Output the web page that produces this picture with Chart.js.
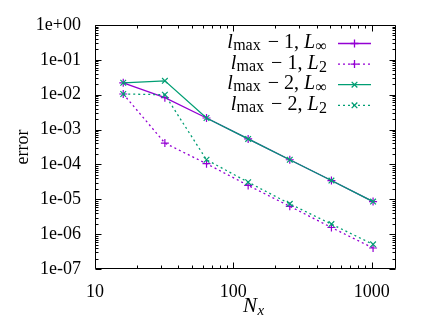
<!DOCTYPE html>
<html><head><meta charset="utf-8">
<script src="https://cdn.jsdelivr.net/npm/chart.js@4/dist/chart.umd.min.js"></script>
<style>html,body{margin:0;padding:0;background:#fff}#wrap{width:435px;height:327px}</style>
</head><body><div id="wrap"><canvas id="c" width="435" height="327"></canvas></div>
<script>
// ---- data ----
const nx = [16, 32, 64, 128, 256, 512, 1024];
const lm1Linf = [2.2e-2, 8.2e-3, 2.15e-3, 5.4e-4, 1.36e-4, 3.45e-5, 8.6e-6];
const lm1L2   = [1.05e-2, 4.1e-4, 1.05e-4, 2.5e-5, 6.3e-6, 1.55e-6, 4.0e-7];
const lm2Linf = [2.2e-2, 2.5e-2, 2.15e-3, 5.4e-4, 1.36e-4, 3.45e-5, 8.6e-6];
const lm2L2   = [1.05e-2, 1.0e-2, 1.36e-4, 3.1e-5, 7.4e-6, 1.94e-6, 5.1e-7];
const xTickValues = [10, 100, 1000];
const xTickLabels = ['10', '100', '1000'];
const yTickValues = [1e0, 1e-1, 1e-2, 1e-3, 1e-4, 1e-5, 1e-6, 1e-7];
const yTickLabels = ['1e+00', '1e-01', '1e-02', '1e-03', '1e-04', '1e-05', '1e-06', '1e-07'];
const seriesLevel = ['1', '1', '2', '2'];      // l_max − n
const seriesNorm  = ['\u221E', '2', '\u221E', '2']; // L_sub
const xTitleMain = 'N', xTitleSub = 'x';
const yTitle = 'error';

const PURPLE = '#9400d3', GREEN = '#009e73';
const SERIF = '"Liberation Serif", "DejaVu Serif", serif';
const pts = arr => nx.map((v, i) => ({x: v, y: arr[i]}));

const styles = [
  {color: PURPLE, dash: [], point: 'cross'},
  {color: PURPLE, dash: [2, 3], point: 'cross'},
  {color: GREEN, dash: [], point: 'crossRot'},
  {color: GREEN, dash: [2, 3], point: 'crossRot'},
];
const seriesData = [lm1Linf, lm1L2, lm2Linf, lm2L2];

const datasets = seriesData.map((arr, i) => ({
  label: 'lmax-' + seriesLevel[i] + ' L' + seriesNorm[i],
  data: pts(arr),
  borderColor: styles[i].color,
  backgroundColor: styles[i].color,
  borderDash: styles[i].dash,
  borderWidth: 1.3,
  pointStyle: styles[i].point,
  pointRadius: 4,
  pointBorderWidth: 1.2,
  pointBorderColor: styles[i].color,
  tension: 0,
  fill: false,
  order: 4 - i   // later series drawn on top
}));

const framePlugin = {
  id: 'frame',
  afterDatasetsDraw(chart) {
    const {ctx, chartArea: a, scales: {x, y}} = chart;
    ctx.save();
    ctx.strokeStyle = '#000';
    ctx.lineWidth = 1;
    const L = Math.round(a.left) + 0.5, R = Math.round(a.right) - 0.5;
    const T = Math.round(a.top) + 0.5, B = Math.round(a.bottom) - 0.5;
    ctx.beginPath();
    ctx.rect(L, T, R - L, B - T);
    const xt = (v, len) => {
      const px = Math.round(x.getPixelForValue(v)) + 0.5;
      ctx.moveTo(px, B); ctx.lineTo(px, B - len);
      ctx.moveTo(px, T); ctx.lineTo(px, T + len);
    };
    for (let d = 10; d <= 1000; d *= 10) {
      xt(d, 6);
      for (let m = 2; m <= 9; m++) if (m * d <= x.max) xt(m * d, 3);
    }
    const yt = (v, len) => {
      const py = Math.round(y.getPixelForValue(v)) + 0.5;
      ctx.moveTo(L, py); ctx.lineTo(L + len, py);
      ctx.moveTo(R, py); ctx.lineTo(R - len, py);
    };
    yTickValues.forEach(v => yt(v, 6));
    for (let e = -7; e < 0; e++) {
      for (let m = 2; m <= 9; m++) yt(m * Math.pow(10, e), 3);
    }
    ctx.stroke();

    // x title N_x
    ctx.fillStyle = '#000';
    ctx.textBaseline = 'alphabetic';
    const cx = (a.left + a.right) / 2;
    ctx.font = 'italic 21px ' + SERIF;
    const wN = ctx.measureText(xTitleMain).width;
    const x0 = cx - 2.5;
    ctx.fillText(xTitleMain, x0, 311.5);
    ctx.font = 'italic 15px ' + SERIF;
    ctx.fillText(xTitleSub, x0 + wN + 0.5, 314.5);

    // legend
    const rowY0 = 43.5, rowDY = 20.6;
    const textRight = 327, sx0 = 338, sx1 = 371;
    const MAIN = '20px ' + SERIF, IT = 'italic 20px ' + SERIF, SUB = '16px ' + SERIF;
    for (let i = 0; i < 4; i++) {
      const ry = rowY0 + rowDY * i;
      // [font, text, baseline offset, gap after]
      const parts = [
        [IT, 'l', 0, 0.3],
        [SUB, 'max', 2, 7],
        [MAIN, '\u2212', 0, 5],
        [MAIN, seriesLevel[i] + ',', 0, 5],
        [IT, 'L', 0, 0.5],
        [SUB, seriesNorm[i], 3, 0],
      ];
      let tw = 0;
      parts.forEach(p => { ctx.font = p[0]; p.push(ctx.measureText(p[1]).width); tw += p[4] + p[3]; });
      let px = textRight - tw;
      const base = ry + 4.5;
      ctx.fillStyle = '#000';
      parts.forEach(p => { ctx.font = p[0]; ctx.fillText(p[1], px, base + p[2]); px += p[4] + p[3]; });
      // sample line
      ctx.strokeStyle = styles[i].color;
      ctx.lineWidth = 1.3;
      ctx.setLineDash(styles[i].dash);
      ctx.beginPath(); ctx.moveTo(sx0, ry); ctx.lineTo(sx1, ry); ctx.stroke();
      ctx.setLineDash([]);
      Chart.helpers.drawPoint(ctx, {pointStyle: styles[i].point, radius: 4, borderWidth: 1.2}, (sx0 + sx1) / 2, ry);
    }
    ctx.restore();
  }
};

new Chart(document.getElementById('c'), {
  type: 'line',
  data: {datasets},
  options: {
    responsive: false,
    animation: false,
    devicePixelRatio: 1,
    layout: {padding: {top: 25, right: 39, left: 0, bottom: 0}},
    plugins: {legend: {display: false}, tooltip: {enabled: false}},
    scales: {
      x: {
        type: 'logarithmic', min: 10, max: 1500,
        afterBuildTicks: s => { s.ticks = xTickValues.map(v => ({value: v})); },
        afterFit: s => { s.height = 58; },
        ticks: {
          autoSkip: false, maxRotation: 0, padding: 12, color: '#000',
          font: {family: SERIF, size: 18},
          callback: (v) => xTickLabels[xTickValues.indexOf(v)]
        },
        grid: {display: false, drawTicks: false},
        border: {display: false}
      },
      y: {
        type: 'logarithmic', min: 1e-7, max: 1,
        afterBuildTicks: s => { s.ticks = yTickValues.map(v => ({value: v})); },
        afterFit: s => { s.width = 95; },
        ticks: {
          autoSkip: false, padding: 14, color: '#000',
          font: {family: SERIF, size: 18},
          callback: (v) => {
            const i = yTickValues.findIndex(t => Math.abs(Math.log10(t) - Math.log10(v)) < 1e-6);
            return i >= 0 ? yTickLabels[i] : '';
          }
        },
        title: {display: true, text: yTitle, color: '#000', font: {family: SERIF, size: 18}, padding: {top: 12, bottom: 0}},
        grid: {display: false, drawTicks: false},
        border: {display: false}
      }
    }
  },
  plugins: [framePlugin]
});
</script>
</body></html>
